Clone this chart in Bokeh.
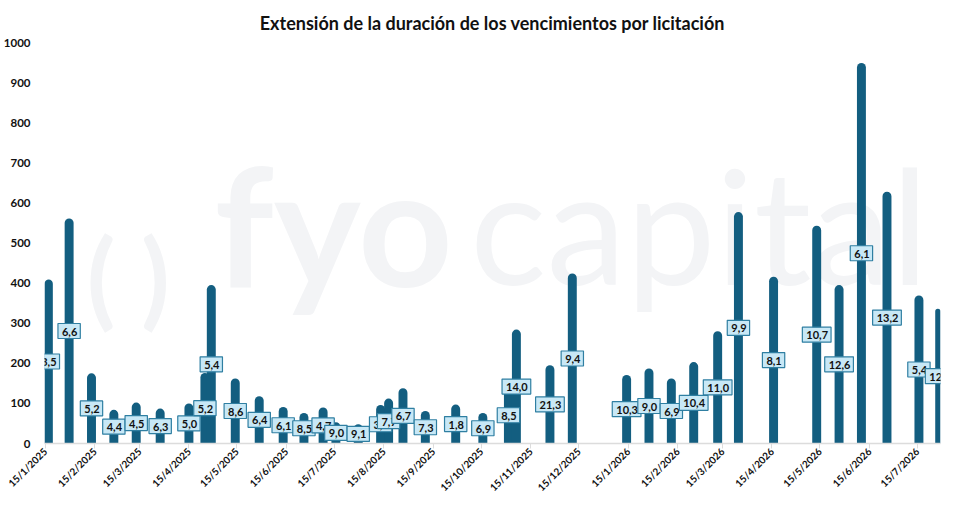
from datetime import datetime, timedelta
from bokeh.plotting import figure
from bokeh.models import ColumnDataSource, Range1d, FixedTicker
from bokeh.core.properties import value
from bokeh.embed import file_html
from bokeh.resources import INLINE

# ---- data ----
dates = ["2025-01-17", "2025-01-30", "2025-02-13", "2025-02-27", "2025-03-13", "2025-03-28",
         "2025-04-15", "2025-04-25", "2025-04-29", "2025-05-14", "2025-05-29", "2025-06-13",
         "2025-06-26", "2025-07-08", "2025-07-16", "2025-07-30", "2025-08-13", "2025-08-18",
         "2025-08-27", "2025-09-10", "2025-09-29", "2025-10-16", "2025-11-01", "2025-11-06",
         "2025-11-27", "2025-12-11", "2026-01-14", "2026-01-28", "2026-02-11", "2026-02-25",
         "2026-03-12", "2026-03-25", "2026-04-16", "2026-05-13", "2026-05-27", "2026-06-10",
         "2026-06-26", "2026-07-16", "2026-07-29"]
montos = [409, 561, 175, 84, 102, 87, 100, 176, 395, 162, 118, 91, 76, 90, 53, 48, 96, 112,
          138, 81, 97, 76, 141, 284, 195, 424, 171, 187, 162, 203, 280, 577, 416, 543, 395,
          949, 628, 369, 336]
duraciones = ["3,5", "6,6", "5,2", "4,4", "4,5", "6,3", "5,0", "5,2", "5,4", "8,6", "6,4", "6,1",
              "8,5", "4,7", "9,0", "9,1", "3,8", "7,7", "6,7", "7,3", "1,8", "6,9", "8,5", "14,0",
              "21,3", "9,4", "10,3", "9,0", "6,9", "10,4", "11,0", "9,9", "8,1", "10,7", "12,6",
              "6,1", "13,2", "5,4", "12,2"]
tick_dates = ["2025-01-15", "2025-02-15", "2025-03-15", "2025-04-15", "2025-05-15", "2025-06-15",
              "2025-07-15", "2025-08-15", "2025-09-15", "2025-10-15", "2025-11-15", "2025-12-15",
              "2026-01-15", "2026-02-15", "2026-03-15", "2026-04-15", "2026-05-15", "2026-06-15",
              "2026-07-15"]
tick_labels = ["15/1/2025", "15/2/2025", "15/3/2025", "15/4/2025", "15/5/2025", "15/6/2025",
               "15/7/2025", "15/8/2025", "15/9/2025", "15/10/2025", "15/11/2025", "15/12/2025",
               "15/1/2026", "15/2/2026", "15/3/2026", "15/4/2026", "15/5/2026", "15/6/2026",
               "15/7/2026"]
y_ticks = [0, 100, 200, 300, 400, 500, 600, 700, 800, 900, 1000]

EPOCH = datetime(1970, 1, 1)
def to_ms(d):
    return (d - EPOCH).total_seconds() * 1000.0

xs = [datetime.strptime(d, "%Y-%m-%d") for d in dates]
src = ColumnDataSource(dict(x=xs, top=montos, mid=[m / 2 for m in montos], lab=duraciones))

BAR = "#135e80"
FONT = "Lato"
WM = "#f3f4f6"

p = figure(width=959, height=500, x_axis_type="datetime", output_backend="svg",
           toolbar_location=None, tools="",
           x_range=Range1d(datetime(2025, 1, 14, 14), datetime(2026, 7, 29, 12)),
           y_range=Range1d(0, 1000),
           min_border_left=35, min_border_right=19, min_border_top=0, min_border_bottom=0)
p.outline_line_color = None
p.xgrid.grid_line_color = None
p.ygrid.grid_line_color = None
p.background_fill_color = "white"

# watermark
p.text(x=[datetime(2025, 3, 16)], y=[420], text=["(  )"], text_font=value(FONT),
       text_font_style="bold", text_font_size="105px", text_color=WM, text_align="center",
       text_baseline="middle", level="underlay")
p.text(x=[datetime(2025, 5, 1)], y=[550], text=["fyo"], text_font=value(FONT),
       text_font_style="bold", text_font_size="165px", text_color=WM,
       text_align="left", text_baseline="alphabetic", level="underlay")
p.text(x=[datetime(2025, 10, 8)], y=[550], text=["capital"], text_font=value(FONT),
       text_font_size="160px", text_color=WM,
       text_align="left", text_baseline="alphabetic", level="underlay")

bar_w = 5.6 * 86400000
p.vbar(x="x", top="top", bottom=0, width=bar_w, source=src, fill_color=BAR,
       line_color=None, border_radius=(5, 5, 0, 0))

p.text(x="x", y="mid", text="lab", source=src, text_font=value(FONT), text_font_style="bold",
       text_font_size="11px", text_color="#111111", text_align="center", text_baseline="middle",
       background_fill_color="#c8e8f6", border_line_color="#2f7fa2", border_line_width=1.2,
       padding=(4, 3, 4, 3))

# title
p.title.text = "Extensión de la duración de los vencimientos por licitación"
p.title.align = "center"
p.title.text_font = FONT
p.title.text_font_style = "bold"
p.title.text_font_size = "18px"
p.title.text_color = "#111111"
p.title.standoff = 18

# x axis
xa = p.xaxis[0]
tick_ms = [to_ms(datetime.strptime(d, "%Y-%m-%d")) for d in tick_dates]
xa.ticker = FixedTicker(ticks=tick_ms)
xa.major_label_overrides = {t: l for t, l in zip(tick_ms, tick_labels)}
xa.major_label_orientation = 0.785398
xa.major_label_text_font = FONT
xa.major_label_text_font_style = "bold"
xa.major_label_text_font_size = "10px"
xa.major_label_text_color = "#111111"
xa.major_label_standoff = 1
xa.axis_line_color = "#dcdcdc"
xa.axis_line_width = 1.5
xa.major_tick_line_color = "#dcdcdc"
xa.major_tick_in = 0
xa.major_tick_out = 5
xa.minor_tick_line_color = None

# y axis
ya = p.yaxis[0]
ya.ticker = FixedTicker(ticks=y_ticks)
ya.axis_line_color = None
ya.major_tick_line_color = None
ya.minor_tick_line_color = None
ya.major_label_text_font = FONT
ya.major_label_text_font_style = "bold"
ya.major_label_text_font_size = "11.5px"
ya.major_label_text_color = "#111111"
ya.major_label_standoff = 8

open("out.html", "w").write(file_html(p, INLINE))
